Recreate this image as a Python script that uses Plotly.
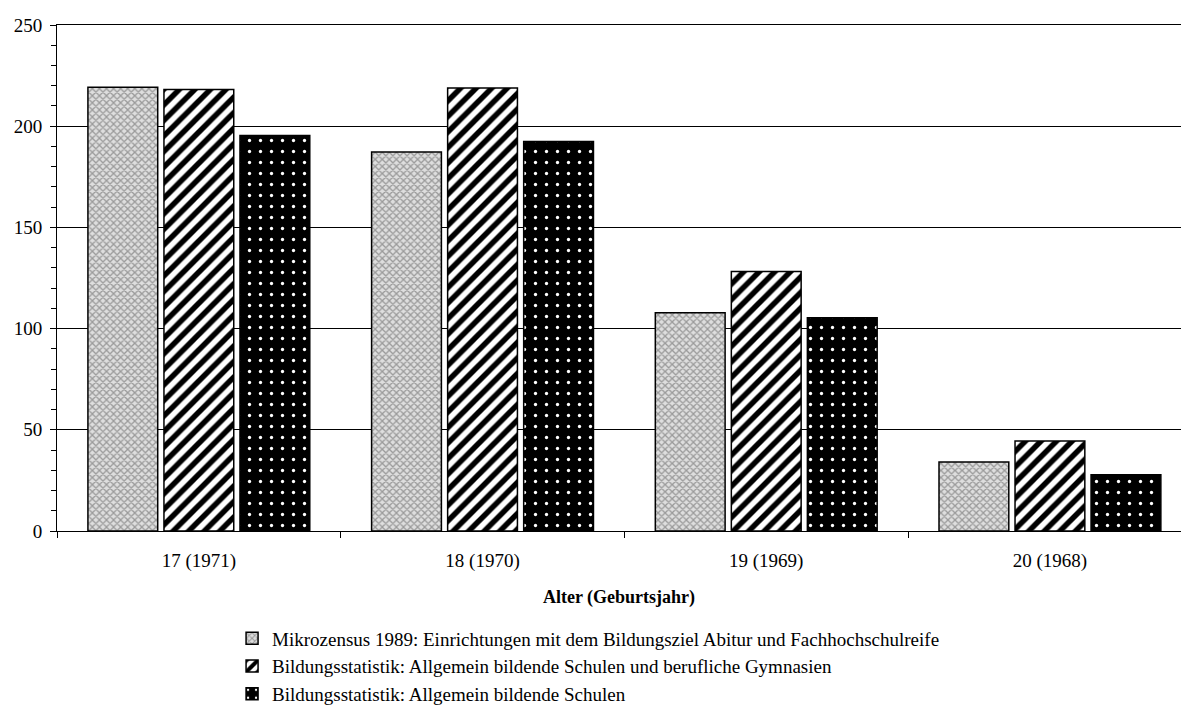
import plotly.graph_objects as go

categories = ["17 (1971)", "18 (1970)", "19 (1969)", "20 (1968)"]
series_names = [
    "Mikrozensus 1989: Einrichtungen mit dem Bildungsziel Abitur und Fachhochschulreife",
    "Bildungsstatistik: Allgemein bildende Schulen und berufliche Gymnasien",
    "Bildungsstatistik: Allgemein bildende Schulen",
]
mikrozensus = [219.2, 187.3, 107.8, 34.1]
bildung_mit_gym = [218.1, 218.9, 128.2, 44.5]
bildung_allg = [195.4, 192.5, 105.3, 27.8]

FONT = "Liberation Serif, Times New Roman, serif"

patterns = [
    dict(shape="x", fgcolor="#9a9a9a", bgcolor="#dedede", size=5, solidity=0.45, fgopacity=1),
    dict(shape="/", fgcolor="black", bgcolor="white", size=11, solidity=0.5, fgopacity=1),
    dict(shape=".", fgcolor="white", bgcolor="black", size=11, solidity=0.07, fgopacity=1),
]

fig = go.Figure()
for i, (name, vals) in enumerate(zip(series_names, [mikrozensus, bildung_mit_gym, bildung_allg])):
    fig.add_trace(go.Bar(
        x=categories, y=vals, name=name, legendgroup=f"g{i}",
        marker=dict(color="white", pattern=patterns[i], line=dict(color="black", width=1.5)),
    ))

fig.update_layout(
    width=1181, height=706,
    margin=dict(l=57, r=0, t=25, b=175, autoexpand=False),
    paper_bgcolor="white", plot_bgcolor="white",
    font=dict(family=FONT, size=19, color="black"),
    barmode="group", bargap=0.196, bargroupgap=0.082,
    showlegend=True,
    legend=dict(
        orientation="v", xref="container", yref="container",
        x=0.1965, xanchor="left", y=1 - 619.5 / 706, yanchor="top",
        traceorder="grouped", tracegroupgap=0,
        font=dict(family=FONT, size=19, color="black"),
        itemwidth=30, bgcolor="rgba(0,0,0,0)",
    ),
)
fig.update_xaxes(
    type="category", range=[-0.5, 3.462], automargin=False,
    showline=True, linecolor="black", linewidth=1, mirror=True,
    ticks="outside", tickson="boundaries", ticklen=6, tickcolor="black",
    showgrid=False, zeroline=False,
    tickfont=dict(family=FONT, size=19),
    ticklabelstandoff=12,
    title=dict(text="<b>Alter (Geburtsjahr)</b>", font=dict(family=FONT, size=18), standoff=19),
)
fig.update_yaxes(
    range=[0, 250], dtick=50, tick0=0, automargin=False,
    showline=True, linecolor="black", linewidth=1,
    ticks="outside", ticklen=6, tickcolor="black",
    minor=dict(dtick=10, ticks="outside", ticklen=5, tickcolor="black", showgrid=False),
    showgrid=True, gridcolor="black", gridwidth=1,
    zeroline=False,
    tickfont=dict(family=FONT, size=19),
    ticklabelstandoff=4,
)

fig.write_html(
    "out.html",
    config={"displayModeBar": False},
    post_script="document.body.style.margin='0';document.body.style.overflow='hidden';",
)
